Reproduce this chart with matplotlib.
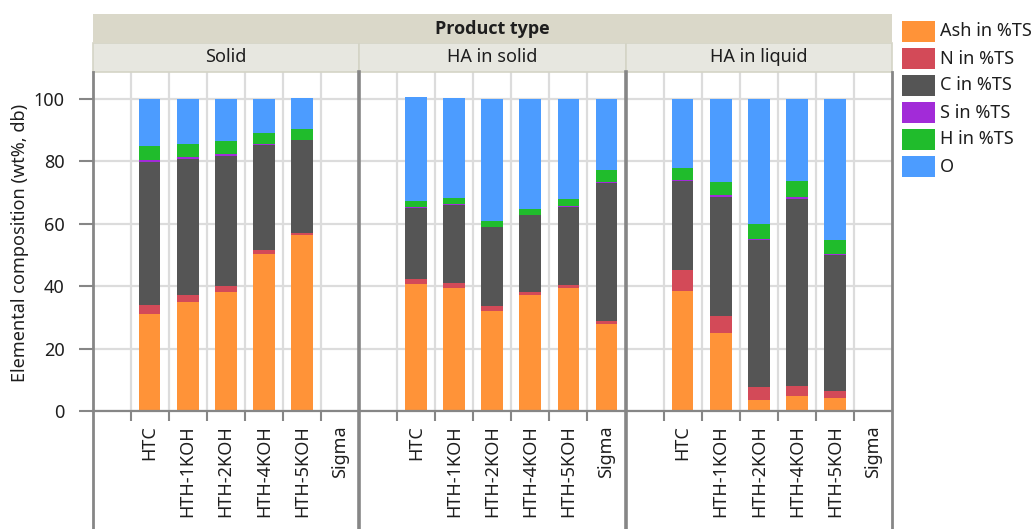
import numpy as np
import matplotlib
matplotlib.use("Agg")
import matplotlib.pyplot as plt
from matplotlib.patches import Rectangle
from matplotlib.lines import Line2D

plt.rcParams['font.family'] = ['Noto Sans', 'DejaVu Sans']

nan = np.nan

panels = ["Solid", "HA in solid", "HA in liquid"]
samples = ["HTC", "HTH-1KOH", "HTH-2KOH", "HTH-4KOH", "HTH-5KOH", "Sigma"]
components = ["Ash in %TS", "N in %TS", "C in %TS", "S in %TS", "H in %TS", "O"]
colors = ["#FF9338", "#D34A58", "#555555", "#A22BD8", "#20BC2C", "#4C9CFF"]

# one row per panel, one value per sample (nan = no measurement)
ash = [[31.1, 34.9, 38.1, 50.3, 56.4, nan],
       [40.7, 39.4, 32.1, 37.2, 39.4, 27.9],
       [38.5, 25.0, 3.5, 4.8, 4.2, nan]]
nitrogen = [[2.9, 2.3, 2.0, 1.3, 0.7, nan],
            [1.6, 1.6, 1.6, 0.9, 1.0, 0.9],
            [6.7, 5.4, 4.2, 3.2, 2.2, nan]]
carbon = [[45.9, 43.6, 41.6, 33.7, 29.8, nan],
          [22.9, 25.1, 25.3, 24.7, 25.0, 44.3],
          [28.5, 38.2, 47.2, 59.9, 43.6, nan]]
sulfur = [[0.5, 0.6, 0.7, 0.4, 0.1, nan],
          [0.3, 0.4, 0.1, 0.1, 0.3, 0.3],
          [0.4, 0.6, 0.2, 0.7, 0.4, nan]]
hydrogen = [[4.5, 4.3, 4.1, 3.4, 3.4, nan],
            [1.8, 1.8, 1.8, 1.8, 2.2, 3.8],
            [3.8, 4.2, 4.8, 5.1, 4.4, nan]]
oxygen = [[15.1, 14.3, 13.5, 10.9, 9.9, nan],
          [33.3, 32.0, 39.1, 35.3, 32.1, 22.8],
          [22.1, 26.6, 40.1, 26.3, 45.2, nan]]

series = [ash, nitrogen, carbon, sulfur, hydrogen, oxygen]

W, H = 1033, 529
fig = plt.figure(figsize=(W / 100, H / 100), dpi=100)


def fx(px):
    return px / W


def fy(py):
    return 1 - py / H


left_px, right_px = 92.5, 892.0
top_px, bottom_px = 72.0, 411.0
pw = (right_px - left_px) / 3

axis_col = "#868686"
grid_col = "#DCDCDC"
text_col = "#1E1E1E"

ymax = 100 * (bottom_px - top_px) / 312.0

for p, name in enumerate(panels):
    ax = fig.add_axes([fx(left_px + p * pw), fy(bottom_px),
                       fx(pw), (bottom_px - top_px) / H])
    pos = np.arange(1, len(samples) + 1)
    base = np.zeros(len(samples))
    for comp, col, vals in zip(components, colors, series):
        v = np.array(vals[p], dtype=float)
        ok = ~np.isnan(v)
        ax.bar(pos[ok], v[ok], bottom=base[ok], width=0.57, color=col,
               linewidth=0, zorder=3)
        base[ok] += v[ok]

    ax.set_xlim(-0.5, len(samples) + 0.5)
    ax.set_ylim(0, ymax)

    # cell boundaries: grid + outward tick marks
    ax.set_xticks(np.arange(0.5, len(samples) + 0.5, 1.0))
    ax.set_xticklabels([])
    ax.tick_params(axis='x', which='major', length=7, width=1.5,
                   color=axis_col, direction='out')
    ax.set_xticks(pos, minor=True)
    ax.set_xticklabels(samples, minor=True, rotation=90, fontsize=13,
                       color=text_col)
    ax.tick_params(axis='x', which='minor', length=0, pad=10)
    ax.grid(axis='x', which='major', color=grid_col, linewidth=1.6, zorder=0)

    ax.set_yticks([0, 20, 40, 60, 80, 100])
    ax.grid(axis='y', color=grid_col, linewidth=1.6, zorder=0)
    if p == 0:
        ax.tick_params(axis='y', length=10, width=1.5, color=axis_col,
                       labelsize=13, labelcolor=text_col, pad=10)
    else:
        ax.tick_params(axis='y', length=0, labelleft=False)

    for s in ("top", "right", "left"):
        ax.spines[s].set_visible(False)
    ax.spines["bottom"].set_color(axis_col)
    ax.spines["bottom"].set_linewidth(1.6)
    ax.spines["bottom"].set_zorder(4)

    # panel header strip
    x0 = left_px + p * pw
    fig.patches.append(Rectangle((fx(x0), fy(top_px)), fx(pw), (top_px - 43) / H,
                                 transform=fig.transFigure, facecolor="#E7E7E0",
                                 edgecolor="#D4D4C6", linewidth=1.2, zorder=1))
    fig.text(fx(x0 + pw / 2), fy(57.5), name, ha='center', va='center',
             fontsize=13, color=text_col)

# outer header
fig.patches.append(Rectangle((fx(left_px), fy(43)), fx(right_px - left_px), 29 / H,
                             transform=fig.transFigure, facecolor="#DAD8C9",
                             edgecolor="none", zorder=1))
fig.text(fx((left_px + right_px) / 2), fy(28.5), "Product type", ha='center',
         va='center', fontsize=13, fontweight='bold', color=text_col,
         family=['Open Sans', 'DejaVu Sans'])

# panel borders running down through the label area
for i in range(4):
    xb = left_px + i * pw
    lw = 2.0 if i in (0, 3) else 2.6
    fig.lines.append(Line2D([fx(xb), fx(xb)], [0, fy(top_px)],
                            transform=fig.transFigure, color=axis_col,
                            linewidth=lw, zorder=5))

fig.text(fx(20), fy(243), "Elemental composition (wt%, db)", rotation=90,
         ha='center', va='center', fontsize=13, color=text_col)

# legend
for i, (comp, col) in enumerate(zip(components, colors)):
    ytop = 21 + 27 * i
    fig.patches.append(Rectangle((fx(902), fy(ytop + 21)), fx(33), 21 / H,
                                 transform=fig.transFigure, facecolor=col,
                                 edgecolor='none'))
    fig.text(fx(940), fy(ytop + 10.5), comp, ha='left', va='center',
             fontsize=13, color=text_col)

fig.savefig("out.png", dpi=100)
